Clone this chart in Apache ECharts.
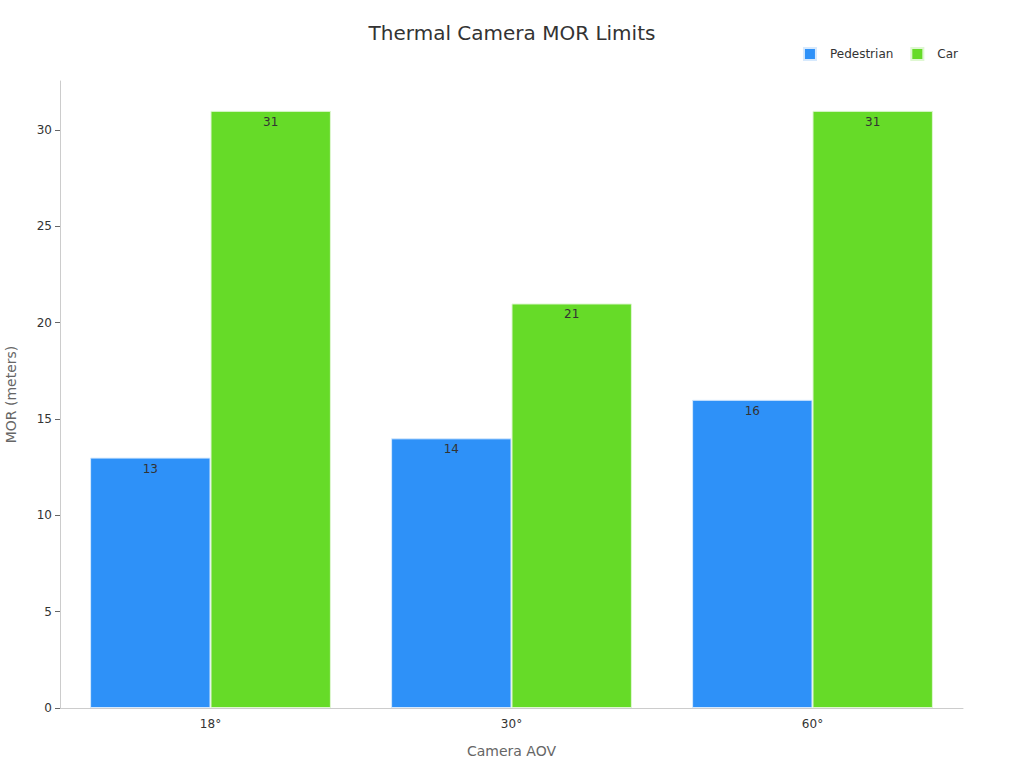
<!DOCTYPE html>
<html>
<head>
<meta charset="utf-8">
<script src="https://cdn.jsdelivr.net/npm/echarts@6/dist/echarts.min.js"></script>
<style>
  html, body { margin: 0; padding: 0; background: #fff; }
  #chart { width: 1024px; height: 768px; }
</style>
</head>
<body>
<div id="chart"></div>
<script>
var categories = ['18°', '30°', '60°'];
var pedestrian = [13, 14, 16];
var car = [31, 21, 31];
var yTicks = [0, 5, 10, 15, 20, 25, 30];

var font = 'DejaVu Sans';
var chart = echarts.init(document.getElementById('chart'), null, { renderer: 'svg' });
chart.setOption({
  animation: false,
  backgroundColor: '#fff',
  title: {
    text: 'Thermal Camera MOR Limits',
    left: 'center',
    top: 18,
    textStyle: { fontFamily: font, fontSize: 20, fontWeight: 'normal', color: '#333' }
  },
  legend: {
    right: 61,
    top: 42,
    itemWidth: 12,
    itemHeight: 12,
    itemGap: 17,
    icon: 'rect',
    textStyle: { fontFamily: font, fontSize: 12, color: '#333', padding: [0, 0, 0, 9] },
    data: ['Pedestrian', 'Car']
  },
  grid: { left: 60, right: 61, top: 81, bottom: 60, containLabel: false, outerBoundsMode: 'none' },
  xAxis: {
    type: 'category',
    data: categories,
    name: 'Camera AOV',
    nameLocation: 'middle',
    nameGap: 36,
    nameTextStyle: { fontFamily: font, fontSize: 14, color: '#666' },
    axisLine: { lineStyle: { color: '#ccc' } },
    axisTick: { alignWithLabel: true, lineStyle: { color: '#666' } },
    axisLabel: { fontFamily: font, fontSize: 12, color: '#333', margin: 10 }
  },
  yAxis: {
    type: 'value',
    min: 0,
    max: 32.55,
    interval: 5,
    name: 'MOR (meters)',
    nameLocation: 'middle',
    nameGap: 42,
    nameTextStyle: { fontFamily: font, fontSize: 14, color: '#666' },
    axisLine: { show: true, lineStyle: { color: '#ccc' } },
    axisTick: { show: true, customValues: yTicks, lineStyle: { color: '#666' } },
    axisLabel: { fontFamily: font, fontSize: 12, color: '#333', customValues: yTicks },
    splitLine: { show: false }
  },
  series: [
    {
      name: 'Pedestrian',
      type: 'bar',
      data: pedestrian,
      barWidth: '40%',
      barGap: '0%',
      itemStyle: { color: '#2E91F8', borderColor: '#d6e9fd', borderWidth: 1 },
      label: { show: true, position: 'insideTop', fontFamily: font, fontSize: 12, color: '#333' }
    },
    {
      name: 'Car',
      type: 'bar',
      data: car,
      barWidth: '40%',
      itemStyle: { color: '#66DB28', borderColor: '#dff7d2', borderWidth: 1 },
      label: { show: true, position: 'insideTop', fontFamily: font, fontSize: 12, color: '#333' }
    }
  ]
});
</script>
</body>
</html>
